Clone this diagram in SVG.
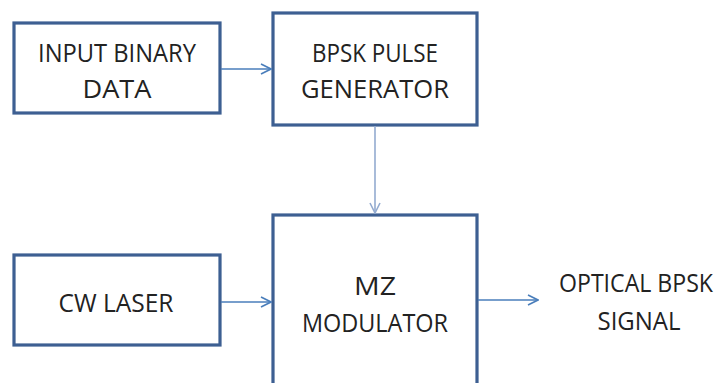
<svg xmlns="http://www.w3.org/2000/svg" width="727" height="383" viewBox="0 0 727 383">
<defs>
<style>
.box{fill:#fff;stroke:#3d5f92;stroke-width:3.2}
.t{font-family:"Open Sans","Liberation Sans",Arial,sans-serif;font-size:26px;fill:#222;text-anchor:middle}
.c{fill:none;stroke:#4a7ebb;stroke-width:1.6}
.cl{fill:none;stroke:#93abd0;stroke-width:1.6}
</style>
<marker id="ah" viewBox="0 0 12 12" refX="11" refY="6" markerWidth="12" markerHeight="12" markerUnits="userSpaceOnUse" orient="auto">
<path d="M1,1 L11,6 L1,11" fill="none" stroke="#4a7ebb" stroke-width="1.6"/>
</marker>
<marker id="ahl" viewBox="0 0 12 12" refX="11" refY="6" markerWidth="12" markerHeight="12" markerUnits="userSpaceOnUse" orient="auto">
<path d="M1,1 L11,6 L1,11" fill="none" stroke="#93abd0" stroke-width="1.6"/>
</marker>
</defs>
<rect width="727" height="383" fill="#fff"/>
<g id="input">
<rect class="box" x="14" y="23" width="206" height="90"/>
<text class="t" x="117" y="62" textLength="158" lengthAdjust="spacingAndGlyphs">INPUT BINARY</text>
<text class="t" x="117" y="98" textLength="69" lengthAdjust="spacingAndGlyphs">DATA</text>
</g>
<g id="bpsk">
<rect class="box" x="273" y="13" width="204" height="112"/>
<text class="t" x="375" y="62" textLength="126" lengthAdjust="spacingAndGlyphs">BPSK PULSE</text>
<text class="t" x="375" y="98" textLength="148" lengthAdjust="spacingAndGlyphs">GENERATOR</text>
</g>
<g id="cw">
<rect class="box" x="14" y="255" width="206" height="90"/>
<text class="t" x="116" y="312" textLength="115" lengthAdjust="spacingAndGlyphs">CW LASER</text>
</g>
<g id="mz">
<rect class="box" x="273" y="215" width="204" height="180"/>
<text class="t" x="375" y="295" textLength="42" lengthAdjust="spacingAndGlyphs">MZ</text>
<text class="t" x="375" y="332" textLength="146" lengthAdjust="spacingAndGlyphs">MODULATOR</text>
</g>
<g id="output">
<text class="t" x="636" y="292" font-size="25" textLength="154" lengthAdjust="spacingAndGlyphs">OPTICAL BPSK</text>
<text class="t" x="639" y="330" textLength="83" lengthAdjust="spacingAndGlyphs">SIGNAL</text>
</g>
<g id="connectors">
<line class="c" x1="221" y1="69" x2="271" y2="69" marker-end="url(#ah)"/>
<line class="cl" x1="375" y1="126" x2="375" y2="213" marker-end="url(#ahl)"/>
<line class="c" x1="221" y1="302" x2="271" y2="302" marker-end="url(#ah)"/>
<line class="c" x1="478" y1="300" x2="538" y2="300" marker-end="url(#ah)"/>
</g>
</svg>
